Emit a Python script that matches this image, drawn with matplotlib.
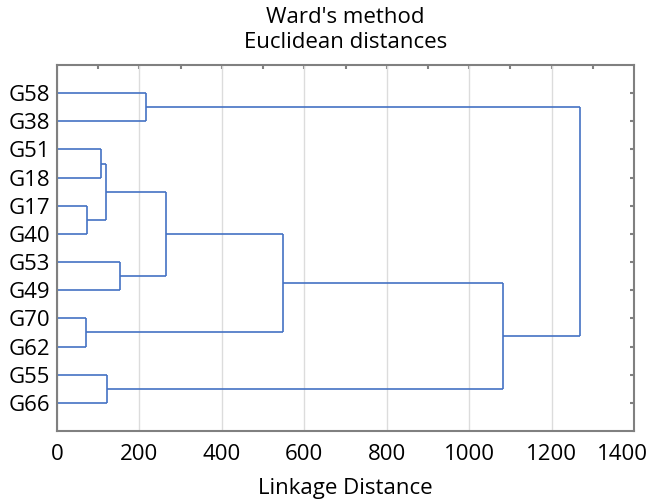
import matplotlib
import matplotlib.pyplot as plt
import matplotlib.transforms as mtransforms

matplotlib.use("Agg")

plt.rcParams['font.family'] = ['Open Sans', 'DejaVu Sans']

# leaves, top to bottom
leaves = ["G58", "G38", "G51", "G18", "G17", "G40",
          "G53", "G49", "G70", "G62", "G55", "G66"]

# linkage: (child a, child b, distance); new cluster ids start at len(leaves)
merges = [
    (0, 1, 216),
    (2, 3, 107),
    (4, 5, 74),
    (13, 14, 120),
    (6, 7, 153),
    (15, 16, 265),
    (8, 9, 70),
    (17, 18, 549),
    (10, 11, 122),
    (19, 20, 1081),
    (12, 21, 1268),
]

line_color = "#4472c4"

fig = plt.figure(figsize=(6.51, 5.0), dpi=100)
ax = fig.add_axes([57 / 651, 1 - 431 / 500, 577 / 651, 366 / 500])

# positions of each node: (height, y)
pos = {i: (0.0, i + 1.0) for i in range(len(leaves))}
for k, (a, b, h) in enumerate(merges):
    node = len(leaves) + k
    xa, ya = pos[a]
    xb, yb = pos[b]
    ax.plot([xa, h], [ya, ya], color=line_color, lw=1.2, solid_capstyle='butt')
    ax.plot([xb, h], [yb, yb], color=line_color, lw=1.2, solid_capstyle='butt')
    ax.plot([h, h], [ya, yb], color=line_color, lw=1.2, solid_capstyle='butt')
    pos[node] = (h, (ya + yb) / 2)

ax.set_xlim(0, 1400)
ax.set_ylim(len(leaves) + 1, 0)
ax.set_xticks(range(0, 1401, 200))
ax.set_yticks(range(1, len(leaves) + 1))
ax.set_yticklabels(leaves)

ax.grid(axis='x', color='#dcdcdc', lw=1)
ax.set_axisbelow(True)

for s in ax.spines.values():
    s.set_color('#808080')
    s.set_linewidth(1.5)

ax.tick_params(axis='x', direction='in', length=0, labelsize=16, pad=9)
ax.tick_params(axis='y', direction='in', length=0, labelsize=16, pad=5)

# last x label pulled inside the figure
last = ax.get_xticklabels()[-1]
last.set_transform(last.get_transform() +
                   mtransforms.ScaledTranslation(-12 / 100, 0, fig.dpi_scale_trans))

# small inward ticks on top and right
top = ax.secondary_xaxis('top')
top.set_xticks(range(100, 1400, 100))
top.tick_params(direction='in', length=3, width=1.5, color='#808080', labeltop=False)
top.spines['top'].set_visible(False)
right = ax.secondary_yaxis('right')
right.set_yticks(range(1, len(leaves) + 1))
right.tick_params(direction='in', length=3, width=1.5, color='#808080', labelright=False)
right.spines['right'].set_visible(False)

ax.set_xlabel("Linkage Distance", fontsize=16, labelpad=10)
ax.set_title("Ward's method\nEuclidean distances", fontsize=16, linespacing=1.3, pad=12)

fig.savefig("out.png", dpi=100)
